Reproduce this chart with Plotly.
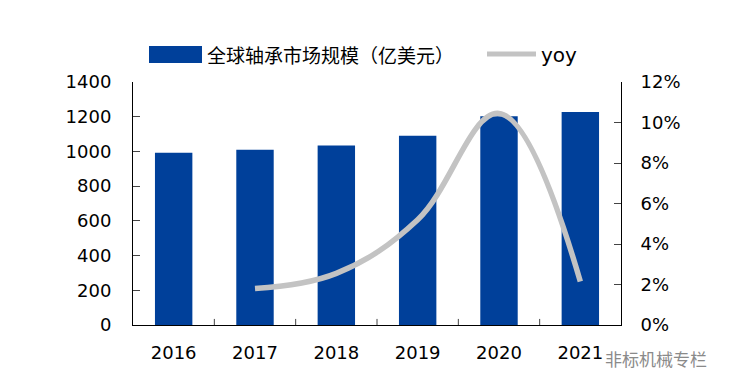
import plotly.graph_objects as go

years = ["2016", "2017", "2018", "2019", "2020", "2021"]
market_size = [993, 1009, 1034, 1090, 1202, 1227]
yoy_years = ["2017", "2018", "2019", "2020", "2021"]
yoy = [0.018, 0.0255, 0.052, 0.1045, 0.0215]

bar_name = "全球轴承市场规模（亿美元）"
line_name = "yoy"
watermark = "非标机械专栏"

BLUE = "#00409A"
GREY = "#C3C3C3"
NUM_FONT = dict(family="DejaVu Sans", size=18, color="#000000")

fig = go.Figure()
fig.add_trace(go.Bar(x=years, y=market_size, name=bar_name, marker=dict(color=BLUE, line=dict(width=0)),
                     width=0.46, yaxis="y", showlegend=False))
fig.add_trace(go.Scatter(x=yoy_years, y=yoy, name=line_name, mode="lines",
                         line=dict(color=GREY, width=5.5, shape="spline", smoothing=1.1),
                         yaxis="y2", showlegend=False))

fig.update_layout(
    width=734, height=391,
    margin=dict(l=125, r=121, t=74, b=74),
    paper_bgcolor="white", plot_bgcolor="white",
    bargap=0.54,
    xaxis=dict(type="category", showline=True, linecolor="#000000", linewidth=1,
               ticks="", tickfont=NUM_FONT, showgrid=False, zeroline=False, ticklabelstandoff=11),
    yaxis=dict(range=[0, 1400], dtick=200, showline=True, linecolor="#000000", linewidth=1,
               ticks="inside", ticklen=7, tickcolor="#444444", tickfont=NUM_FONT,
               showgrid=False, zeroline=False, ticklabelstandoff=17),
    yaxis2=dict(range=[0, 0.12], dtick=0.02, tickformat=".0%", overlaying="y", side="right",
                showline=True, linecolor="#000000", linewidth=1, ticks="inside", ticklen=7,
                tickcolor="#444444", tickfont=NUM_FONT, showgrid=False, zeroline=False,
                ticklabelstandoff=15),
)

# inside tick marks between categories on x axis
shapes = []
for i in range(1, len(years)):
    shapes.append(dict(type="line", xref="x", yref="paper", x0=i - 0.5, x1=i - 0.5, y0=0, y1=0.025,
                       line=dict(color="#444444", width=1)))

# legend (manual)
shapes.append(dict(type="rect", xref="paper", yref="paper",
                   x0=(149 - 133) / 488, x1=(202 - 133) / 488,
                   y0=(325 - 63) / 243, y1=(325 - 46) / 243,
                   fillcolor=BLUE, line=dict(width=0)))
shapes.append(dict(type="line", xref="paper", yref="paper",
                   x0=(487 - 133) / 488, x1=(536 - 133) / 488,
                   y0=(325 - 54) / 243, y1=(325 - 54) / 243,
                   line=dict(color=GREY, width=5)))
fig.update_layout(shapes=shapes)

annotations = [
    dict(text=bar_name, xref="paper", yref="paper", x=(205 - 133) / 488, y=(325 - 55) / 243,
         xanchor="left", yanchor="middle", showarrow=False,
         font=dict(family="Noto Sans CJK SC", size=19, color="#000000")),
    dict(text=line_name, xref="paper", yref="paper", x=(539 - 133) / 488, y=(325 - 55) / 243,
         xanchor="left", yanchor="middle", showarrow=False,
         font=dict(family="DejaVu Sans", size=20, color="#000000")),
    dict(text=watermark, xref="paper", yref="paper", x=(603 - 133) / 488, y=(325 - 358) / 243,
         xanchor="left", yanchor="middle", showarrow=False,
         font=dict(family="Noto Sans CJK SC", size=17, color="#8A8A8A")),
]
fig.update_layout(annotations=annotations)

fig.write_html("out.html")
